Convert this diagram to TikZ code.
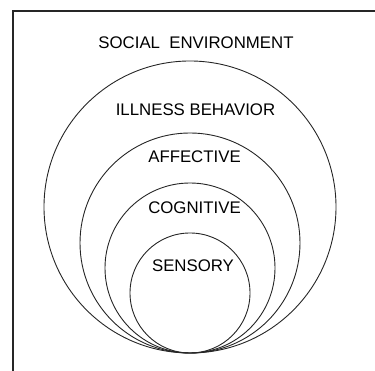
\documentclass[tikz,border=0pt]{standalone}
\usepackage{fontspec}
\setmainfont{Liberation Sans}
\begin{document}
\begin{tikzpicture}[x=1pt,y=1pt,
  lbl/.style={font=\fontsize{16.8}{19}\selectfont, anchor=base, inner sep=0pt},
  ring/.style={draw=black!85, line width=0.9pt},
  frame/.style={draw=black!85, line width=1.6pt}]
\useasboundingbox (0,0) rectangle (375,371);
% frame
\coordinate (fcorner) at (13,360);
\coordinate (fright) at (375,360);
\coordinate (fbottom) at (13,0);
\draw[frame] (fright) -- (fcorner) -- (fbottom);
% nested circles tangent at the bottom
\coordinate (cIll) at (190,164);
\coordinate (cAff) at (190,128);
\coordinate (cCog) at (190,103);
\coordinate (cSen) at (190,78);
\draw[ring] (cIll) circle[radius=146];
\draw[ring] (cAff) circle[radius=110];
\draw[ring] (cCog) circle[radius=85];
\draw[ring] (cSen) circle[radius=60];
% labels
\node[lbl] (soc) at (196,322) {SOCIAL\ \ ENVIRONMENT};
\node[lbl] (ill) at (195.5,255) {ILLNESS BEHAVIOR};
\node[lbl] (aff) at (194.5,208) {AFFECTIVE};
\node[lbl] (cog) at (194.5,157) {COGNITIVE};
\node[lbl] (sen) at (193,99) {SENSORY};
\end{tikzpicture}
\end{document}
